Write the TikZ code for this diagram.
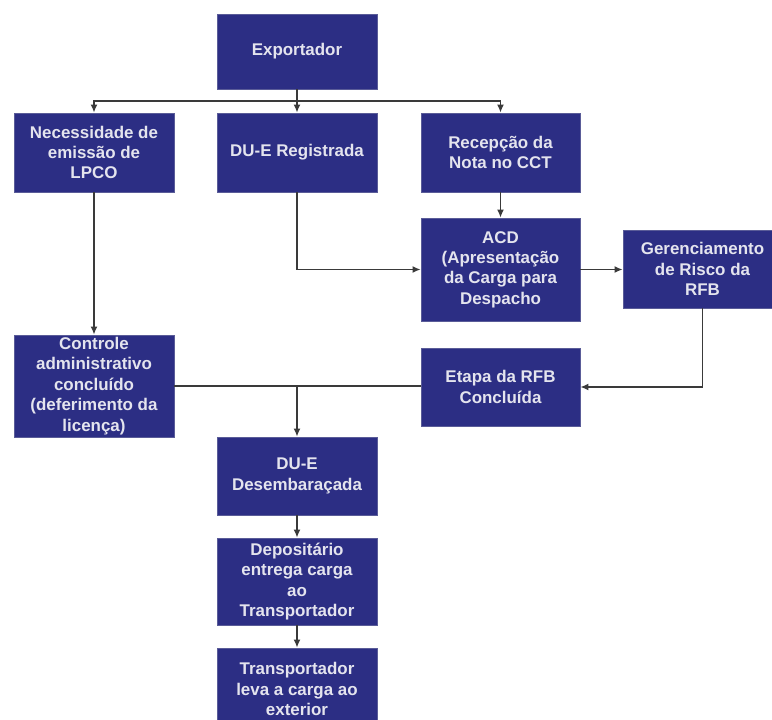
\documentclass[tikz,border=0pt]{standalone}
\usepackage{fontspec}
\setmainfont{Liberation Sans}
\usetikzlibrary{arrows.meta}
\definecolor{navy}{HTML}{2C2E84}
\definecolor{edge}{HTML}{5A5C98}
\definecolor{txt}{HTML}{E4E4EE}
\definecolor{wire}{HTML}{3A3A3A}
\tikzset{
  box/.style={draw=edge, line width=0.8bp, fill=navy, text=txt, align=center, inner sep=0pt,
    font=\bfseries\fontsize{17}{20.5}\selectfont},
  arr/.style={draw=wire, line width=1.5bp, -{Latex[length=8bp,width=7bp]}},
  wire/.style={draw=wire, line width=1.5bp}
}
\begin{document}
\begin{tikzpicture}[x=1bp,y=-1bp]
\fill[white] (0,0) rectangle (772,720);
\clip (0,0) rectangle (772,720);
% nodes
\node[box, minimum width=160bp, minimum height=75bp] (exp) at (297,51.5) {Exportador};
\node[box, minimum width=160bp, minimum height=79bp] (nec) at (94,152.5) {Necessidade de\\emissão de\\LPCO};
\node[box, minimum width=160bp, minimum height=79bp] (reg) at (297,152.5) {DU-E Registrada};
\node[box, minimum width=159bp, minimum height=79bp] (rec) at (500.5,152.5) {Recepção da\\Nota no CCT};
\node[box, minimum width=159bp, minimum height=103bp] (acd) at (500.5,269.5) {ACD\\(Apresentação\\da Carga para\\Despacho};
\node[box, minimum width=159bp, minimum height=78bp] (ger) at (702.5,269) {Gerenciamento\\de Risco da\\RFB};
\node[box, minimum width=159bp, minimum height=78bp] (etp) at (500.5,387) {Etapa da RFB\\Concluída};
\node[box, minimum width=160bp, minimum height=102bp] (ctl) at (94,386) {Controle\\administrativo\\concluído\\(deferimento da\\licença)};
\node[box, minimum width=160bp, minimum height=78bp] (des) at (297,476) {DU-E\\Desembaraçada};
\node[box, minimum width=160bp, minimum height=87bp] (dep) at (297,581.5) {Depositário\\entrega carga\\ao\\Transportador};
\node[box, minimum width=160bp, minimum height=82bp] (tra) at (297,689) {Transportador\\leva a carga ao\\exterior};
% connectors
\coordinate (bus) at (297,101);
\draw[wire] (exp.south) -- (bus);
\draw[arr] (bus) -| (nec.north);
\draw[arr] (bus) -| (rec.north);
\draw[arr] (bus) -- (reg.north);
\draw[arr] (nec) -- (ctl);
\draw[arr] (reg.south) |- (acd.west);
\draw[arr] (rec) -- (acd);
\draw[arr] (acd.east) -- (acd.east -| ger.west);
\draw[arr] (ger.south) |- (etp.east);
\draw[wire] (ctl.east) -- (ctl.east -| etp.west);
\coordinate (join) at (297,386);
\draw[arr] (join) -- (des.north);
\draw[arr] (des) -- (dep);
\draw[arr] (dep) -- (tra);
\end{tikzpicture}
\end{document}
